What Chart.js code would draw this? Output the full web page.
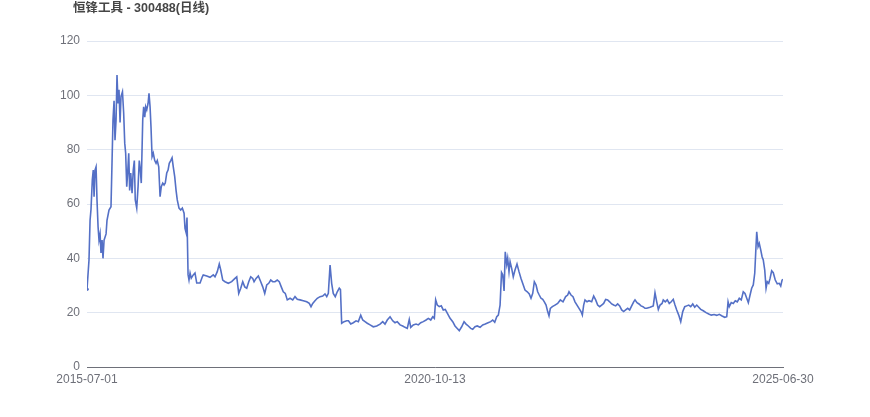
<!DOCTYPE html>
<html>
<head>
<meta charset="utf-8">
<script src="https://cdn.jsdelivr.net/npm/chart.js@4.4.1/dist/chart.umd.min.js"></script>
<style>
html,body{margin:0;padding:0;background:#fff;}
#wrap{width:870px;height:417px;position:relative;}
</style>
</head>
<body>
<div id="wrap"><canvas id="c" width="870" height="417"></canvas></div>
<script>
const chartTitle = "恒锋工具 - 300488(日线)";
const tickLabels = ["2015-07-01", "2020-10-13", "2025-06-30"];
const tickPositions = [0, 261, 522];
const yTicks = [0, 20, 40, 60, 80, 100, 120];

// position along the session axis (0 = 2015-07-01, 522 = 2025-06-30)
const session = [
0,1.5,2.3,3,4,4.7,5.3,6,6.8,7.5,8.3,9,9.8,10.5,11.3,12,12.8,14.3,15,16.5,18,18.8,19.5,20.3,21,21.8,22.5,23.3,24,24.8,
25.5,26.6,27.5,28.3,29,29.8,30.5,31.3,32,32.8,33.8,34.7,35.5,36.2,37.3,38.3,39.2,40,40.7,41.8,42.5,43.3,44,44.8,45.8,46.5,47.3,48,48.8,49.7,
50.8,51.8,52.7,53.8,54.8,55.7,56.8,57.8,58.7,59.8,60.8,61.7,62.8,63.8,64.7,65.8,66.8,67.7,69,70.3,71.5,72.8,73.5,74.3,75,75.8,76.5,77.3,78.2,79.7,
81,82.3,84.8,86.5,87.2,89.8,92.3,94.7,96,97.7,99.2,100.3,101.8,103.5,106,108.5,111,112.3,113.8,115.3,116.8,118.3,119.8,121.3,122.8,124.3,125.3,126.8,128.5,130.3,
131.8,133.3,134.8,136.3,137.8,139.3,141,142.7,144.2,145.7,147.2,148.7,150.2,152.3,154.3,156,157.7,159.8,162.2,164.8,166.7,168,169.3,171,172.7,174.8,176.8,178.5,179.8,181,
182.3,183.5,184.7,186.2,187.7,189.2,190.1,191,192.8,194.8,196.1,197.8,199.7,201.8,203.5,205.3,206.8,208.5,210.2,212.3,214.7,217.3,219.8,221.8,223.5,225.2,227.3,229.3,231,232.7,
234.8,236.8,238.5,240.2,241.7,242.8,244.7,246.8,248.5,250.3,252.2,254.3,256,257.8,259.3,260.5,261.5,262.7,264.2,265.7,267.2,268.7,270.2,272.3,274.3,276,277.7,279.2,281,282.8,
284.3,286,287.8,289.3,291,292.7,294.8,296.8,298.7,300.8,302.8,304.3,305.8,307.3,308.5,309.8,310.9,311.8,312.8,313.7,314.8,315.5,316.5,317.3,318.5,319.7,321,322.5,324,325.5,
327.2,328.5,330.2,331.7,333,334.3,335.5,336.8,338,339.2,340.5,341.8,343,344.3,345.5,346.5,347.5,349,351,353,355,357,359,360.5,361.5,363,364.5,366,367.5,369,
370.5,371.5,372.5,373.5,375,376.5,378.5,380,381.5,383,384.5,386,387.5,389,390.5,392,393.5,395,396.5,398,399.5,401,402.5,404,405.5,407,408.5,410,411,412.5,
414,415.5,417,418.5,419.8,422.3,424.7,426,427.3,428.5,429.8,431.3,432.2,433.7,435.2,436.7,438.2,439.7,441,442.3,443.8,445.3,446.8,448.3,449.8,451.3,452.8,454.3,455.8,457.3,
458.8,460.3,462.2,464.3,466.3,468.2,470.3,472.3,474.2,476.3,478.3,479.8,480.8,481.7,483.2,484.7,486.2,487.7,489.2,490.7,492.2,493.5,494.8,496,497.3,498.5,499.7,500.8,501.5,502.3,
503.3,504.2,505.3,506.3,507.2,508.3,509.3,510.2,511.3,512.3,513.5,514.7,516.2,517.7,519.2,520.3,521.3,522
];

const close = [
28.6,39.4,54,58,69,72.5,62.7,72.5,73.7,61.5,51.6,46.7,49,42,46.7,40,46.7,49,54,57.8,59,76,91,98,83.5,91,107.5,97,102,90,
99.5,101.3,93.5,82.4,78.7,66.4,71.4,78.7,65,71.4,64,72.5,76,61.5,58.5,66.4,76,72.5,67.7,91,95.8,92,95.8,94.6,97,100.7,95.8,88.4,77.4,78.7,
76,75,76,73.7,62.7,66.4,67.7,67,67.7,71.4,72.5,75,76,77,73.7,70,65,61.5,58.5,57.8,58.5,56.6,51,49.5,55,34,32,34.6,32.7,33.9,
34.6,30.9,30.9,33.2,33.9,33.5,33,33.9,33.2,35.1,37.9,35.7,32,31.4,30.8,31.4,32.6,33.2,27.1,29,31.4,29.5,29,31.4,33.2,32.6,31.4,32.6,33.5,31.4,
29.5,27.1,30.2,30.8,32,31.4,31.4,32,31.4,29.5,27.7,27.1,24.7,25.3,24.7,25.9,24.9,24.7,24.4,24,23.4,22.2,23.4,24.4,25.3,25.9,26.1,26.9,25.9,27.1,
37.5,30.8,27.1,25.9,27.7,29,28.5,16.1,16.7,17,17,15.8,16.3,17,16.7,19.1,17.3,16.7,16.1,15.5,14.8,15.1,15.8,16.7,15.8,17.3,18.5,17,16.3,16.7,
15.5,15.1,14.6,14.2,17.5,14.6,15.5,15.8,15.5,16.3,16.7,17.3,17.9,17.3,18.5,17.9,24.7,22.8,22.2,22.5,21,21.2,19.8,17.9,16.7,15.1,14.2,13.4,14.8,16.7,
15.8,15.1,14.2,13.9,14.8,15.1,14.6,15.5,15.8,16.3,16.7,17.3,16.5,18.5,19.1,22.8,34.8,34,28,42.4,37.8,40,35.1,38.8,36.3,33.2,35.7,37.9,35.1,32.6,
30.2,28.3,27.7,26.9,25.3,27.1,31.4,30.2,27.7,26.5,25.3,24.9,24,22.8,20.4,18.8,21.6,22.2,22.8,23.4,24.7,24,25.9,26.5,27.7,26.5,25.9,24,22.8,21.6,
20.4,19.1,22.8,24.7,24,24.4,24,26.1,24.7,22.8,22.2,22.8,23.4,24.9,24.7,24,23.2,22.8,22.5,23.2,22.5,21,20.4,21,21.6,21,22.5,24,24.7,23.7,
23.2,22.5,22.2,21.6,21.6,22,22.5,27.3,24,21.2,22.8,23.4,24.7,24,24.7,23.4,24,24.9,22.8,21,19.1,16.7,20.4,22.2,22.5,22.8,22.2,23.2,22,22.8,
22,21.2,20.7,20,19.5,19.1,19.3,19,19.4,18.8,18.3,18.5,24,22.2,23.7,23.4,24.4,24,25.3,24.7,27.7,27.1,25.3,23.7,26.5,29,30.2,34.5,41.8,49.8,
44.3,45.5,43.1,40.6,39.4,35.7,29,31.4,30.8,32.6,35.4,34.7,32,30.6,30.8,29.8,32,32.3
];

const FONT = '"Liberation Sans", "Noto Sans CJK SC", sans-serif';
const points = session.map((s, i) => ({ x: s, y: close[i] }));

const titlePlugin = {
  id: 'titleText',
  afterDraw(chart) {
    const c = chart.ctx;
    c.save();
    c.font = 'bold 12.5px ' + FONT;
    c.fillStyle = '#464646';
    c.textBaseline = 'middle';
    c.textAlign = 'left';
    c.fillText(chartTitle, 73, 9);
    c.restore();
  }
};

new Chart(document.getElementById('c'), {
  type: 'line',
  data: {
    datasets: [{
      data: points,
      borderColor: '#5470c6',
      backgroundColor: '#5470c6',
      borderWidth: 1.6,
      pointRadius: ctx => ctx.dataIndex === 0 ? 1.8 : 0,
      pointBorderWidth: 0,
      tension: 0
    }]
  },
  options: {
    responsive: false,
    animation: false,
    layout: { padding: { left: 0, right: 87, top: 41, bottom: 0 } },
    plugins: { legend: { display: false }, tooltip: { enabled: false }, title: { display: false } },
    scales: {
      x: {
        type: 'linear',
        min: 0,
        max: 522,
        afterBuildTicks: s => { s.ticks = tickPositions.map(v => ({ value: v })); },
        afterFit: s => { s.height = 50; },
        grid: { display: false, drawTicks: false },
        border: { display: true, color: '#6e7079', width: 1 },
        ticks: {
          autoSkip: false, maxRotation: 0, padding: 5,
          color: '#6e7079', font: { size: 12, family: FONT },
          callback: (v) => { const k = tickPositions.indexOf(v); return k >= 0 ? tickLabels[k] : ''; }
        }
      },
      y: {
        min: 0,
        max: 120,
        afterBuildTicks: s => { s.ticks = yTicks.map(v => ({ value: v })); },
        afterFit: s => { s.width = 87; },
        grid: { color: '#e0e6f1', drawTicks: false, lineWidth: 1 },
        border: { display: false },
        ticks: { padding: 7, color: '#6e7079', font: { size: 12, family: FONT } }
      }
    }
  },
  plugins: [titlePlugin]
});
</script>
</body>
</html>
